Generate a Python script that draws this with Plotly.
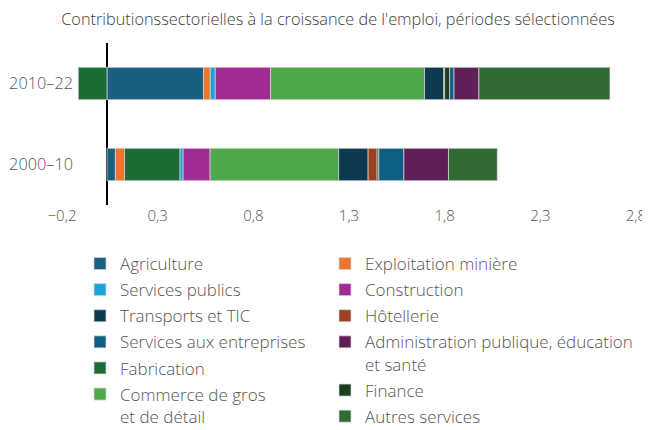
import plotly.graph_objects as go

# periods (bottom to top) and sectors in stacking order
periods = ["2000–10", "2010–22"]
sectors = [
    "Agriculture",
    "Exploitation minière",
    "Fabrication",
    "Services publics",
    "Construction",
    "Commerce de gros<br>et de détail",
    "Transports et TIC",
    "Hôtellerie",
    "Finance",
    "Services aux entreprises",
    "Administration publique, éducation<br>et santé",
    "Autres services",
]
# contribution (percentage points) per sector
values_2000_10 = [0.044, 0.048, 0.290, 0.016, 0.141, 0.672, 0.154, 0.047, 0.009, 0.131, 0.233, 0.255]
values_2010_22 = [0.505, 0.035, -0.150, 0.026, 0.289, 0.805, 0.100, 0.005, 0.026, 0.023, 0.130, 0.685]

colors = ["#1a5e80", "#ed7431", "#1d6c37", "#18a3db", "#a02b93", "#4ea84a",
          "#0e3a50", "#9b4122", "#16401e", "#0f5f85", "#5f1f57", "#326a33"]

# legend layout: two independent columns
left_col = ["Agriculture", "Services publics", "Transports et TIC", "Services aux entreprises",
            "Fabrication", "Commerce de gros<br>et de détail"]
right_col = ["Exploitation minière", "Construction", "Hôtellerie",
             "Administration publique, éducation<br>et santé", "Finance", "Autres services"]

FONT = "Open Sans"
GREY = "#555555"
W, H = 642, 422  # page body adds an 8px margin

fig = go.Figure()
for i, name in enumerate(sectors):
    if name in left_col:
        leg, rank = "legend", left_col.index(name)
    else:
        leg, rank = "legend2", right_col.index(name)
    fig.add_trace(go.Bar(
        y=periods,
        x=[values_2000_10[i], values_2010_22[i]],
        name=name,
        orientation="h",
        marker=dict(color=colors[i], line=dict(color="rgba(215,215,215,0.9)", width=0.8)),
        legend=leg,
        legendrank=rank + 1,
        legendgroup=name,
        hovertemplate="%{y}: %{x:.2f}<extra>" + name + "</extra>",
    ))

legend_style = dict(
    xref="container", yref="container", yanchor="top", xanchor="left",
    font=dict(family=FONT, size=17, color=GREY, weight=300),
    bgcolor="rgba(0,0,0,0)", valign="top", itemclick=False,
    traceorder="grouped", tracegroupgap=1,
)

fig.update_layout(
    width=W, height=H,
    margin=dict(l=54, r=14, t=35, b=225, autoexpand=False),
    paper_bgcolor="white", plot_bgcolor="white",
    barmode="relative", bargap=0.6,
    font=dict(family=FONT, color=GREY),
    title=dict(
        text="Contributionssectorielles à la croissance de l'emploi, périodes sélectionnées",
        x=330 / W, xanchor="center", y=1 - 11 / H, yanchor="middle",
        font=dict(family=FONT, size=16.3, color="#404040", weight=300),
    ),
    separators=",.",
    xaxis=dict(
        range=[-0.235, 2.7651], tick0=-0.235, dtick=0.5, tickformat=".1f",
        showgrid=False, zeroline=True, zerolinecolor="black", zerolinewidth=1.5,
        showline=False, ticks="", tickfont=dict(size=15, color=GREY, weight=300),
        automargin=False, ticklabeloverflow="allow",
    ),
    yaxis=dict(
        categoryorder="array", categoryarray=periods,
        showgrid=False, showline=False, ticks="",
        tickfont=dict(size=16.3, color=GREY, weight=300),
        ticklabelstandoff=-12, automargin=False,
    ),
    legend=dict(x=72 / W, y=1 - 238 / H, **legend_style),
    legend2=dict(x=317 / W, y=1 - 238 / H, **legend_style),
)

fig.write_html("out.html")
